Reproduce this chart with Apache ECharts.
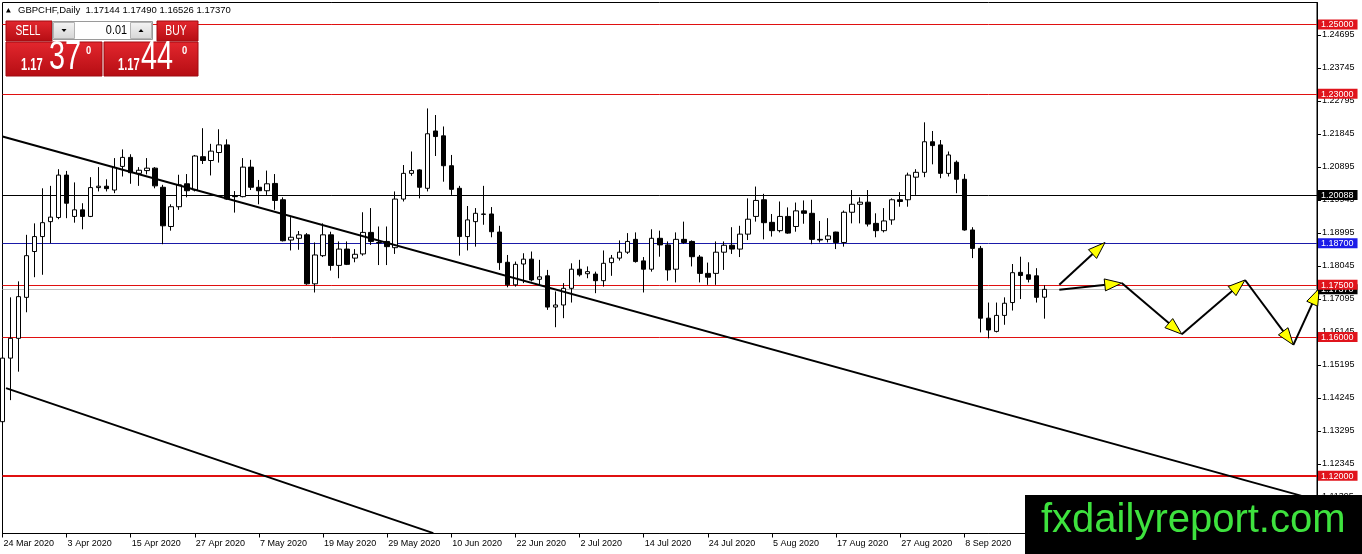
<!DOCTYPE html>
<html>
<head>
<meta charset="utf-8">
<script src="https://cdn.jsdelivr.net/npm/echarts@6/dist/echarts.min.js"></script>
<style>html,body{margin:0;padding:0;background:#fff;overflow:hidden}#c{width:1362px;height:554px}</style>
</head>
<body>
<div id="c"></div>
<script>
// ---------------- DATA ----------------
const symbolTitle = 'GBPCHF,Daily';
const startDate = '2020-03-24';
const totalSlots = 165; // bars + empty chart-shift area

const open = [1.1356,1.1539,1.1596,1.1714,1.1846,1.1889,1.1932,1.1944,1.2066,1.1947,
1.1966,1.1947,1.2030,1.2034,1.2023,1.2091,1.2117,1.2071,1.2079,1.2086,
1.2031,1.1918,1.1975,1.2041,1.2023,1.2119,1.2108,1.2131,1.2153,1.2005,
1.2004,1.2089,1.2031,1.2021,1.2042,1.1995,1.1879,1.1884,1.1894,1.1753,
1.1834,1.1894,1.1806,1.1853,1.1827,1.1839,1.1901,1.1872,1.1875,1.1857,
1.1997,1.2071,1.2081,1.2028,1.2193,1.2179,1.2093,1.2028,1.1889,1.1932,
1.1954,1.1954,1.1902,1.1815,1.1750,1.1810,1.1824,1.1766,1.1776,1.1686,
1.1692,1.1740,1.1795,1.1782,1.1781,1.1762,1.1814,1.1827,1.1844,1.1881,
1.1819,1.1795,1.1884,1.1865,1.1795,1.1881,1.1875,1.1830,1.1783,1.1783,
1.1844,1.1864,1.1853,1.1896,1.1947,1.1995,1.1930,1.1906,1.1947,1.1918,
1.1963,1.1956,1.1881,1.1881,1.1902,1.1872,1.1959,1.1982,1.1988,1.1927,
1.1906,1.1937,1.1995,1.1995,1.2060,1.2074,1.2162,1.2153,1.2071,1.2103,
1.2054,1.1908,1.1855,1.1654,1.1616,1.1662,1.1699,1.1786,1.1779,1.1776,
1.17144];
const high = [1.1577,1.1714,1.1760,1.1894,1.1927,1.2028,1.2035,1.2083,1.2078,1.2045,
1.1985,1.2060,1.2089,1.2054,1.2115,1.2140,1.2126,1.2089,1.2115,1.2089,
1.2038,1.1982,1.2067,1.2069,1.2124,1.2201,1.2156,1.2198,1.2169,1.2020,
1.2115,1.2110,1.2052,1.2079,1.2069,1.2002,1.1945,1.1905,1.1899,1.1872,
1.1927,1.1903,1.1875,1.1875,1.1853,1.1959,1.1971,1.1918,1.1918,1.2019,
1.2095,1.2134,1.2083,1.2258,1.2239,1.2206,1.2124,1.2035,1.1977,1.1971,
1.2035,1.1974,1.1920,1.1836,1.1817,1.1841,1.1846,1.1822,1.1793,1.1731,
1.1755,1.1812,1.1822,1.1803,1.1788,1.1849,1.1836,1.1878,1.1899,1.1901,
1.1830,1.1910,1.1906,1.1875,1.1901,1.1932,1.1878,1.1836,1.1814,1.1875,
1.1875,1.1916,1.1920,1.1999,1.2033,1.2012,1.1954,1.1990,1.1973,1.1987,
1.1993,1.1995,1.1934,1.1942,1.1903,1.1964,1.2023,1.2002,1.2023,1.1956,
1.1971,1.1999,1.2017,1.2073,1.2083,1.2218,1.2193,1.2167,1.2134,1.2108,
1.2069,1.1916,1.1862,1.1699,1.1699,1.1714,1.1810,1.1831,1.1815,1.1798,
1.17490];
const low = [1.1318,1.1418,1.1500,1.1671,1.1772,1.1779,1.1870,1.1939,1.1942,1.1929,
1.1910,1.1945,1.2019,1.2019,1.2014,1.2062,1.2041,1.2035,1.2068,1.2028,
1.1867,1.1906,1.1966,1.2002,1.2019,1.2098,1.2065,1.2102,1.1995,1.1958,
1.2002,1.2023,1.1982,1.2009,1.1966,1.1875,1.1849,1.1851,1.1750,1.1728,
1.1830,1.1791,1.1769,1.1807,1.1815,1.1834,1.1865,1.1807,1.1807,1.1839,
1.1990,1.2064,1.1999,1.2019,1.2121,1.2047,1.2009,1.1834,1.1849,1.1860,
1.1923,1.1887,1.1793,1.1743,1.1745,1.1755,1.1760,1.1750,1.1678,1.1628,
1.1654,1.1699,1.1774,1.1769,1.1726,1.1745,1.1776,1.1820,1.1839,1.1814,
1.1728,1.1788,1.1831,1.1762,1.1757,1.1868,1.1803,1.1757,1.1750,1.1750,
1.1793,1.1839,1.1830,1.1879,1.1932,1.1881,1.1889,1.1901,1.1897,1.1903,
1.1926,1.1867,1.1872,1.1872,1.1853,1.1860,1.1927,1.1927,1.1918,1.1887,
1.1901,1.1923,1.1975,1.1975,1.2009,1.2060,1.2097,1.2057,1.2062,1.2014,
1.1906,1.1827,1.1613,1.1596,1.1613,1.1635,1.1676,1.1709,1.1757,1.1699,
1.16526];
const close = [1.1539,1.1596,1.1716,1.1834,1.1889,1.1929,1.1945,1.2066,1.1985,1.1966,
1.1947,1.2030,1.2034,1.2027,1.2088,1.2117,1.2073,1.2080,1.2086,1.2035,
1.1920,1.1975,1.2038,1.2021,1.2121,1.2108,1.2135,1.2153,1.1997,1.2004,
1.2089,1.2031,1.2021,1.2041,1.1993,1.1877,1.1887,1.1894,1.1753,1.1836,
1.1894,1.1806,1.1853,1.1809,1.1838,1.1901,1.1875,1.1871,1.1860,1.1997,
1.2071,1.2079,1.2031,1.2185,1.2177,1.2093,1.2025,1.1889,1.1937,1.1956,
1.1953,1.1903,1.1814,1.1750,1.1809,1.1824,1.1764,1.1773,1.1686,1.1692,
1.1740,1.1795,1.1779,1.1788,1.1762,1.1812,1.1827,1.1844,1.1875,1.1817,
1.1795,1.1884,1.1865,1.1793,1.1881,1.1872,1.1831,1.1783,1.1772,1.1844,
1.1864,1.1853,1.1896,1.1939,1.1993,1.1929,1.1906,1.1947,1.1899,1.1963,
1.1956,1.1881,1.1879,1.1891,1.1872,1.1959,1.1982,1.1988,1.1925,1.1906,
1.1934,1.1995,1.1990,1.2066,1.2074,1.2162,1.2151,1.2071,1.2124,1.2054,
1.1908,1.1855,1.1654,1.1620,1.1662,1.1697,1.1785,1.1777,1.1766,1.1714,
1.17370];

const tickLabels = ['24 Mar 2020','3 Apr 2020','15 Apr 2020','27 Apr 2020','7 May 2020','19 May 2020',
'29 May 2020','10 Jun 2020','22 Jun 2020','2 Jul 2020','14 Jul 2020','24 Jul 2020','5 Aug 2020',
'17 Aug 2020','27 Aug 2020','8 Sep 2020'];
const tickEvery = 8;

const priceTicks = [1.11395,1.12345,1.13295,1.14245,1.15195,1.16145,1.17095,1.18045,1.18995,
1.19945,1.20895,1.21845,1.22795,1.23745,1.24695];

const levelValues = [1.25000, 1.23000, 1.20088, 1.18700, 1.17500, 1.16000, 1.12000];
const bidPrice = 1.17370;
const yMin = 1.1034, yMax = 1.2563;

// trend lines: [bar index, price] anchors
const trendLineA = [[0, 1.2177], [164, 1.1130]];
const trendLineB = [[0.44, 1.14525], [53.75, 1.10351]];

// forecast arrows: [from [bar, price], to [bar, price]]
const forecastArrows = [
  [[131.85, 1.1750], [137.55, 1.1872]],
  [[131.85, 1.1736], [139.64, 1.1755]],
  [[139.64, 1.1755], [147.13, 1.1608]],
  [[147.13, 1.1608], [155.02, 1.1764]],
  [[155.02, 1.1764], [161.05, 1.1577]],
  [[161.05, 1.1577], [164.29, 1.1740]]
];

// ---------------- BUILD ----------------
const MONTHS = ['Jan','Feb','Mar','Apr','May','Jun','Jul','Aug','Sep','Oct','Nov','Dec'];
function weekdayDates(start, n) {
  const out = [];
  const d = new Date(start + 'T00:00:00Z');
  while (out.length < n) {
    const w = d.getUTCDay();
    if (w !== 0 && w !== 6) out.push(d.getUTCDate() + ' ' + MONTHS[d.getUTCMonth()] + ' ' + d.getUTCFullYear());
    d.setUTCDate(d.getUTCDate() + 1);
  }
  return out;
}
const categories = weekdayDates(startDate, totalSlots);
const candles = open.map((o, i) => [o, close[i], low[i], high[i]]);

const FONT = '"Liberation Sans", Arial, sans-serif';
const RED = '#e0141c';
const levelLineColor = ['#e01010', '#e01010', '#000000', '#1a1aa8', '#e01010', '#e01010', '#e01010'];
const levelLineWidth = [1, 1, 1, 1, 1, 1, 2];
const levelTagKind = ['r', 'r', 'k', 'b', 'r', 'r', 'r'];
const tagValues = [bidPrice].concat(levelValues);
function tagKind(v) {
  if (Math.abs(v - bidPrice) < 1e-7) return 'k';
  const i = levelValues.findIndex(x => Math.abs(x - v) < 1e-7);
  return i >= 0 ? levelTagKind[i] : 'k';
}
const tagBase = { color: '#fff', fontSize: 9, fontFamily: FONT, padding: [1, 4, 0, 3], lineHeight: 10 };

const markLineData = [{ yAxis: bidPrice, lineStyle: { color: '#c0c0c0', width: 1, type: 'solid' } }].concat(
  levelValues.map((v, i) => ({
    yAxis: v, lineStyle: { color: levelLineColor[i], width: levelLineWidth[i], type: 'solid' }
  })));

const chart = echarts.init(document.getElementById('c'), null, { renderer: 'canvas' });

const redGrad = () => new echarts.graphic.LinearGradient(0, 0, 0, 1, [
  { offset: 0, color: '#e3272e' }, { offset: 1, color: '#b50d13' }]);
const greyGrad = () => new echarts.graphic.LinearGradient(0, 0, 0, 1, [
  { offset: 0, color: '#f4f4f4' }, { offset: 1, color: '#d6d6d6' }]);
function txt(x, y, text, font, fill, align, sx) {
  return { type: 'text', x: x, y: y, scaleX: sx || 1, z: 101,
    style: { text: text, font: font, fill: fill, align: align || 'left', textAlign: align || 'left',
      verticalAlign: 'middle', textVerticalAlign: 'middle' } };
}

const graphics = [
  // header
  { type: 'polygon', z: 100, shape: { points: [[6, 12.5], [10.8, 12.5], [8.4, 8]] }, style: { fill: '#000' } },
  txt(18, 10.5, symbolTitle + '  ' + [open[open.length - 1], high[high.length - 1], low[low.length - 1], close[close.length - 1]].map(v => v.toFixed(5)).join(' '),
      '9.5px ' + FONT, '#000', 'left', 1),
  // one-click panel
  { type: 'rect', z: 100, shape: { x: 6, y: 21, width: 46, height: 20 }, style: { fill: redGrad(), stroke: '#a00a10', lineWidth: 1 } },
  { type: 'rect', z: 100, shape: { x: 52.5, y: 21.5, width: 100, height: 18 }, style: { fill: '#fff', stroke: '#9a9a9a', lineWidth: 1 } },
  { type: 'rect', z: 100, shape: { x: 53.5, y: 22.5, width: 21, height: 16 }, style: { fill: greyGrad(), stroke: '#b4b4b4', lineWidth: 1 } },
  { type: 'rect', z: 100, shape: { x: 130.5, y: 22.5, width: 21, height: 16 }, style: { fill: greyGrad(), stroke: '#b4b4b4', lineWidth: 1 } },
  { type: 'polygon', z: 101, shape: { points: [[61.5, 29], [66.5, 29], [64, 32]] }, style: { fill: '#000' } },
  { type: 'polygon', z: 101, shape: { points: [[138.5, 32], [143.5, 32], [141, 29]] }, style: { fill: '#000' } },
  txt(127, 31, '0.01', '12.5px ' + FONT, '#000', 'right', 0.87),
  { type: 'rect', z: 100, shape: { x: 157, y: 21, width: 41, height: 20 }, style: { fill: redGrad(), stroke: '#a00a10', lineWidth: 1 } },
  txt(28, 31, 'SELL', '15px ' + FONT, '#fff', 'center', 0.68),
  txt(176, 31, 'BUY', '14px ' + FONT, '#fff', 'center', 0.74),
  { type: 'rect', z: 100, shape: { x: 6, y: 42, width: 96, height: 34 }, style: { fill: redGrad(), stroke: '#a00a10', lineWidth: 1 } },
  { type: 'rect', z: 100, shape: { x: 104, y: 42, width: 94, height: 34 }, style: { fill: redGrad(), stroke: '#a00a10', lineWidth: 1 } },
  txt(21, 66, '1.17', 'bold 16px ' + FONT, '#fff', 'left', 0.7),
  txt(49, 58, '37', '40px ' + FONT, '#fff', 'left', 0.72),
  txt(86, 51, '0', 'bold 11px ' + FONT, '#fff', 'left', 0.85),
  txt(118, 66, '1.17', 'bold 16px ' + FONT, '#fff', 'left', 0.7),
  txt(141, 58, '44', '40px ' + FONT, '#fff', 'left', 0.72),
  txt(182, 51, '0', 'bold 11px ' + FONT, '#fff', 'left', 0.85),
  // watermark
  { type: 'rect', z: 100, shape: { x: 1025, y: 495, width: 337, height: 59 }, style: { fill: '#000' } },
  txt(1041, 520.5, 'fxdailyreport.com', '40px ' + FONT, '#3ee23e', 'left', 1)
];

const option = {
  animation: false,
  backgroundColor: '#fff',
  grid: { left: 2.5, right: 45, top: 2.5, bottom: 20.5, show: true, borderColor: '#000', borderWidth: 1, backgroundColor: '#fff' },
  xAxis: [
    {
      type: 'category', data: categories, boundaryGap: false,
      axisLine: { show: true, onZero: false, lineStyle: { color: '#000', width: 1 } },
      axisTick: { show: true, interval: tickEvery - 1, length: 4, lineStyle: { color: '#000' } },
      axisLabel: {
        interval: tickEvery - 1, align: 'left', margin: 6, padding: [0, 0, 0, 1],
        color: '#000', fontSize: 9, fontFamily: FONT,
        formatter: (v, i) => (i % tickEvery === 0 && i / tickEvery < tickLabels.length) ? tickLabels[i / tickEvery] : ''
      },
      splitLine: { show: false }
    },
    { type: 'value', min: 0, max: totalSlots - 1, show: false, position: 'top',
      axisLine: { show: false, onZero: false }, axisTick: { show: false }, axisLabel: { show: false }, splitLine: { show: false } }
  ],
  yAxis: [
    {
      type: 'value', position: 'right', min: yMin, max: yMax,
      splitLine: { show: false },
      axisLine: { show: true, onZero: false, lineStyle: { color: '#000' } },
      axisTick: { show: true, customValues: priceTicks, length: 4, lineStyle: { color: '#000' } },
      axisLabel: { customValues: priceTicks, formatter: v => v.toFixed(5), color: '#000', fontSize: 9, fontFamily: FONT, margin: 5 }
    },
    {
      type: 'value', position: 'right', min: yMin, max: yMax, z: 10,
      splitLine: { show: false }, axisLine: { show: false, onZero: false }, axisTick: { show: false },
      axisLabel: {
        customValues: tagValues, margin: 1,
        formatter: v => '{' + tagKind(v) + '|' + v.toFixed(5) + '}',
        rich: {
          r: Object.assign({ backgroundColor: RED }, tagBase),
          k: Object.assign({ backgroundColor: '#000' }, tagBase),
          b: Object.assign({ backgroundColor: '#1c1ce8' }, tagBase)
        }
      }
    }
  ],
  series: [
    {
      type: 'candlestick', xAxisIndex: 0, yAxisIndex: 0, data: candles, barWidth: 5, z: 3,
      itemStyle: { color: '#fff', color0: '#000', borderColor: '#000', borderColor0: '#000', borderColorDoji: '#000', borderWidth: 1 },
      markLine: { silent: true, precision: 6, symbol: ['none', 'none'], label: { show: false }, data: markLineData, z: 2, animation: false }
    },
    {
      type: 'line', xAxisIndex: 1, yAxisIndex: 0, data: trendLineA, showSymbol: false, symbol: 'none',
      lineStyle: { color: '#000', width: 2 }, z: 4, silent: true
    },
    {
      type: 'line', xAxisIndex: 1, yAxisIndex: 0, data: trendLineB, showSymbol: false, symbol: 'none',
      lineStyle: { color: '#000', width: 2 }, z: 4, silent: true
    },
    {
      type: 'custom', xAxisIndex: 1, yAxisIndex: 0, clip: false, z: 5, silent: true,
      data: forecastArrows.map(s => [s[0][0], s[0][1], s[1][0], s[1][1]]),
      encode: { x: [0, 2], y: [1, 3] },
      renderItem: function (params, api) {
        const p1 = api.coord([api.value(0), api.value(1)]);
        const p2 = api.coord([api.value(2), api.value(3)]);
        const dx = p2[0] - p1[0], dy = p2[1] - p1[1];
        const len = Math.sqrt(dx * dx + dy * dy);
        const ux = dx / len, uy = dy / len;
        const L = 17, W = 6;
        const bx = p2[0] - ux * L, by = p2[1] - uy * L;
        return {
          type: 'group', children: [
            { type: 'line', shape: { x1: p1[0], y1: p1[1], x2: p2[0] - ux * 4, y2: p2[1] - uy * 4 }, style: { stroke: '#000', lineWidth: 2 } },
            { type: 'polygon', shape: { points: [[p2[0], p2[1]], [bx - uy * W, by + ux * W], [bx + uy * W, by - ux * W]] },
              style: { fill: '#ffff00', stroke: '#000', lineWidth: 1 } }
          ]
        };
      }
    }
  ],
  graphic: { elements: graphics }
};
chart.setOption(option);
</script>
</body>
</html>
